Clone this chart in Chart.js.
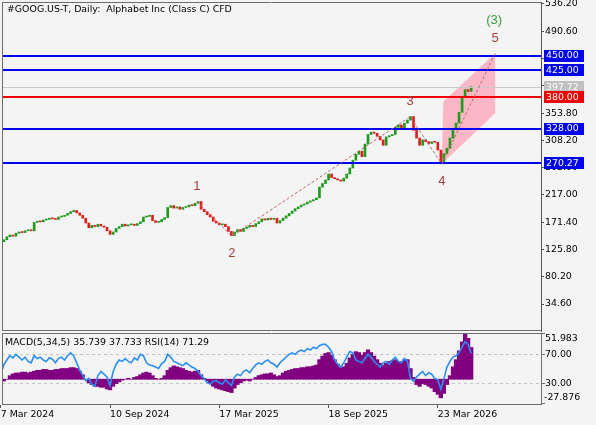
<!DOCTYPE html>
<html>
<head>
<meta charset="utf-8">
<script src="https://cdn.jsdelivr.net/npm/chart.js@4"></script>
<style>
html, body { margin: 0; padding: 0; background: #f4f4f4; }
#wrap { position: relative; width: 596px; height: 425px; overflow: hidden; }
canvas { position: absolute; left: 0; }
#main { top: 0; }
#sub { top: 333px; }
</style>
</head>
<body>
<div id="wrap">
  <canvas id="main" width="596" height="333"></canvas>
  <canvas id="sub" width="596" height="92"></canvas>
</div>
<script>
// closing prices, one candle per slot (each slot ~3.5 trading days)
const closes = [
  138.7, 142, 147, 150, 148, 153, 155, 154, 157, 158,
  157, 171, 173, 172, 175, 176, 178, 177, 176, 180,
  181, 183, 186, 189, 191, 187, 183, 178, 170, 162,
  166, 164, 168, 165, 163, 157, 151, 155, 161, 164,
  168, 165, 167, 168, 166, 169, 172, 180, 181, 183,
  174, 171, 172, 176, 179, 196, 199, 195, 197, 193,
  196, 197, 200, 199, 203, 206, 193, 189, 184, 180,
  173, 170, 167, 168, 164, 156, 149, 155, 159, 156,
  161, 163, 166, 164, 169, 172, 177, 175, 178, 176,
  178, 170, 174, 178, 182, 186, 190, 194, 197, 200,
  202, 205, 207, 209, 212, 230, 236, 242, 252, 246,
  244, 242, 240, 245, 252, 262, 275, 285, 290, 281,
  302, 318, 322, 320, 315, 309, 300, 314, 316, 318,
  330, 334, 329, 337, 342, 348, 325, 312, 300, 309,
  306, 303, 306, 305, 292, 269, 286, 295, 312, 326,
  337, 355, 382, 393, 390, 397.72
];
const macd = [
  -3, -2, 0, 4, 6, 7, 7, 8, 8, 7,
  8, 9, 10, 10, 11, 11, 10, 10, 11, 11,
  12, 12, 12, 13, 13, 12, 9, 5, 0, -4,
  -6, -8, -8, -9, -9, -11, -12, -8, -5, -3,
  -1, 0, 1, 0, 2, 3, 5, 7, 8, 7,
  4, 1, 0, 1, 4, 10, 13, 15, 14, 13,
  12, 10, 9, 8, 9, 10, 5, 1, -2, -5,
  -8, -10, -11, -12, -13, -14, -15, -10, -6, -4,
  -2, -1, -2, 0, 2, 4, 5, 6, 6, 7,
  5, 3, 4, 7, 9, 10, 11, 12, 12, 13,
  13, 14, 14, 15, 16, 22, 26, 29, 30, 27,
  22, 17, 13, 14, 18, 24, 28, 31, 30, 27,
  30, 33, 30, 26, 22, 18, 16, 18, 20, 21,
  22, 20, 20, 22, 22, 12, 2, -6, -8, -5,
  -6, -8, -10, -14, -17, -21, -16, -6, 4, 14,
  22, 32, 42, 51.983, 46, 35.739
];
const rsi = [
  42, 55, 62, 68, 65, 70, 66, 62, 66, 60,
  58, 68, 64, 66, 62, 60, 65, 63, 58, 64,
  66, 62, 68, 72, 68, 58, 48, 40, 33, 36,
  28, 25, 40, 46, 42, 38, 26, 45, 56, 62,
  60, 64, 60, 58, 65, 62, 70, 68, 58, 55,
  54, 52, 50, 57, 60, 70, 66, 60, 58, 56,
  54, 58, 55, 52, 50, 46, 40, 36, 30, 28,
  32, 33, 30, 28, 34, 30, 26, 38, 42, 40,
  46, 48, 44, 50, 55, 58, 56, 60, 62, 58,
  56, 52, 58, 62, 66, 70, 72, 70, 74, 76,
  74, 78, 76, 80, 78, 82, 84, 84, 80, 74,
  62, 56, 52, 58, 66, 74, 72, 62, 60, 58,
  64, 70, 66, 60, 56, 52, 58, 60, 56, 62,
  66, 60, 58, 64, 60, 36, 32, 38, 42, 46,
  40, 44, 42, 36, 34, 21, 35, 52, 60, 66,
  68, 72, 80, 88, 84, 71.29
];
const priceTicks = [536.2, 490.6, 445.0, 399.4, 353.8, 308.2, 262.6, 217.0, 171.4, 125.8, 80.2, 34.6];
const dateLabels = ['7 Mar 2024', '10 Sep 2024', '17 Mar 2025', '18 Sep 2025', '23 Mar 2026'];
const dateIdx = [0, 36, 72, 108, 144];
const blueLevels = [450, 425, 328, 270.27];
const redLevels = [380];
const lastPrice = 397.72;
const waveNames = ['1', '2', '3', '4', '5'];
const wavePoints = [[64.6, 205.6], [76.1, 148.2], [134.9, 347.7], [145.3, 268.6], [162.9, 453.8]];
const channel = [[145.3, 268.6], [145.8, 372.8], [162.9, 453.8], [162.9, 353.4]];
const macdRange = [51.983, -27.876];
const rsiLevels = [70, 30];
const subTitle = 'MACD(5,34,5) 35.739 37.733 RSI(14) 71.29';
const title = '#GOOG.US-T, Daily:  Alphabet Inc (Class C) CFD';

const FONT = '"DejaVu Sans"';
const X_MIN = 0.4, X_MAX = 178;

const candles = closes.map((c, i) => ({ x: i, y: [i ? closes[i - 1] : c - 1, c] }));
const candleColors = candles.map(d => d.y[1] >= d.y[0] ? '#1f9a1f' : '#e01e1e');

function noPad(s) {
  s.paddingTop = 0; s.paddingBottom = 0; s.paddingLeft = 0; s.paddingRight = 0;
}

function levelBox(ctx, yPix, text, bg) {
  ctx.fillStyle = bg;
  ctx.fillRect(544, Math.round(yPix) - 6, 40, 12);
  ctx.fillStyle = '#fff';
  ctx.textAlign = 'left';
  ctx.textBaseline = 'middle';
  ctx.fillText(text, 546, yPix + 0.5);
}

const mainDeco = {
  id: 'mainDeco',
  beforeDatasetsDraw(chart) {
    const { ctx, scales: { x, y } } = chart;
    ctx.save();
    ctx.fillStyle = 'rgba(255,160,182,0.72)';
    ctx.beginPath();
    channel.forEach((p, k) => {
      const px = x.getPixelForValue(p[0]), py = y.getPixelForValue(p[1]);
      if (k) ctx.lineTo(px, py); else ctx.moveTo(px, py);
    });
    ctx.closePath();
    ctx.fill();
    ctx.restore();
  },
  afterDraw(chart) {
    const { ctx, chartArea: a, scales: { x, y } } = chart;
    ctx.save();
    // current price line
    let yy = Math.round(y.getPixelForValue(lastPrice)) + 0.5;
    ctx.strokeStyle = '#c8c8c8';
    ctx.lineWidth = 1;
    ctx.beginPath(); ctx.moveTo(a.left, yy); ctx.lineTo(a.right, yy); ctx.stroke();
    // level lines
    ctx.lineWidth = 2;
    const drawLevel = (v, col) => {
      const py = Math.round(y.getPixelForValue(v));
      ctx.strokeStyle = col;
      ctx.beginPath(); ctx.moveTo(a.left, py); ctx.lineTo(a.right, py); ctx.stroke();
    };
    blueLevels.forEach(v => drawLevel(v, '#0000f0'));
    redLevels.forEach(v => drawLevel(v, '#f00000'));
    // wave dashed lines
    ctx.strokeStyle = '#b86a66';
    ctx.lineWidth = 1;
    ctx.setLineDash([3, 2]);
    ctx.beginPath();
    wavePoints.forEach((p, k) => {
      const px = x.getPixelForValue(p[0]), py = y.getPixelForValue(p[1]);
      if (k) ctx.lineTo(px, py); else ctx.moveTo(px, py);
    });
    ctx.stroke();
    ctx.setLineDash([]);
    // wave labels
    ctx.font = '13px "Liberation Sans"';
    ctx.textAlign = 'center';
    ctx.textBaseline = 'middle';
    ctx.fillStyle = '#a5423c';
    wavePoints.forEach((p, k) => {
      const px = x.getPixelForValue(p[0]), py = y.getPixelForValue(p[1]);
      const up = k % 2 === 0;
      ctx.fillText(waveNames[k], px, up ? py - 15 : py + 17);
    });
    const p5 = wavePoints[4];
    ctx.fillStyle = '#3c9a3c';
    ctx.fillText('(3)', x.getPixelForValue(p5[0]) - 1, y.getPixelForValue(p5[1]) - 33);
    // frame
    ctx.strokeStyle = '#6e6e6e';
    ctx.beginPath();
    ctx.moveTo(a.left + 0.5, a.top); ctx.lineTo(a.left + 0.5, a.bottom);
    ctx.moveTo(a.left, a.top + 0.5); ctx.lineTo(a.right, a.top + 0.5);
    ctx.moveTo(a.left, a.bottom - 0.5); ctx.lineTo(a.right, a.bottom - 0.5);
    ctx.stroke();
    // title
    ctx.font = '9.4px ' + FONT;
    ctx.fillStyle = '#000';
    ctx.textAlign = 'left';
    ctx.fillText(title, 7, 10);
    // axis boxes
    levelBox(ctx, y.getPixelForValue(lastPrice), lastPrice.toFixed(2), '#c0c0c0');
    blueLevels.forEach(v => levelBox(ctx, y.getPixelForValue(v), v.toFixed(2), '#0000f0'));
    redLevels.forEach(v => levelBox(ctx, y.getPixelForValue(v), v.toFixed(2), '#f00000'));
    ctx.restore();
  }
};

new Chart(document.getElementById('main'), {
  type: 'bar',
  data: {
    datasets: [{
      data: candles,
      backgroundColor: candleColors,
      barThickness: 2,
      minBarLength: 1
    }]
  },
  options: {
    responsive: false,
    animation: false,
    layout: { padding: { left: 2, top: 2, right: 0, bottom: 2 } },
    plugins: { legend: { display: false }, tooltip: { enabled: false } },
    scales: {
      x: { type: 'linear', min: X_MIN, max: X_MAX, offset: false, display: false },
      y: {
        position: 'right',
        min: -10.5,
        max: 539.5,
        afterBuildTicks: s => { s.ticks = priceTicks.map(v => ({ value: v })); },
        afterFit: s => { s.width = 55; noPad(s); },
        ticks: {
          autoSkip: false,
          padding: 1,
          color: '#000',
          font: { family: FONT, size: 9.4 },
          callback: v => Number(v).toFixed(2)
        },
        grid: { drawOnChartArea: false, tickLength: 3, color: '#555' },
        border: { color: '#555' }
      }
    }
  },
  plugins: [mainDeco]
});

const subDeco = {
  id: 'subDeco',
  beforeDatasetsDraw(chart) {
    const { ctx, chartArea: a, scales: { yRsi } } = chart;
    ctx.save();
    ctx.strokeStyle = '#c4c4c4';
    ctx.setLineDash([3, 3]);
    rsiLevels.forEach(v => {
      const py = Math.round(yRsi.getPixelForValue(v)) + 0.5;
      ctx.beginPath(); ctx.moveTo(a.left, py); ctx.lineTo(a.right, py); ctx.stroke();
    });
    ctx.restore();
  },
  afterDraw(chart) {
    const { ctx, chartArea: a, scales: { yRsi } } = chart;
    ctx.save();
    ctx.strokeStyle = '#6e6e6e';
    ctx.lineWidth = 1;
    ctx.beginPath();
    ctx.moveTo(a.left + 0.5, a.top); ctx.lineTo(a.left + 0.5, a.bottom);
    ctx.moveTo(a.left, a.top + 0.5); ctx.lineTo(a.right, a.top + 0.5);
    ctx.moveTo(a.right + 0.5, 0); ctx.lineTo(a.right + 0.5, a.bottom);
    ctx.stroke();
    // right-hand labels
    ctx.font = '9.4px ' + FONT;
    ctx.fillStyle = '#000';
    ctx.textAlign = 'left';
    ctx.textBaseline = 'middle';
    const tick = py => {
      ctx.beginPath(); ctx.moveTo(a.right, py); ctx.lineTo(a.right + 4, py); ctx.stroke();
    };
    tick(a.top + 0.5);
    ctx.fillText(macdRange[0].toFixed(3), a.right + 4, a.top + 6);
    tick(a.bottom - 0.5);
    ctx.fillText(macdRange[1].toFixed(3), a.right + 3, a.bottom - 6);
    rsiLevels.forEach(v => {
      const py = Math.round(yRsi.getPixelForValue(v)) + 0.5;
      tick(py);
      ctx.fillText(v.toFixed(2), a.right + 4, py);
    });
    ctx.fillText(subTitle, 5, a.top + 10);
    ctx.restore();
  }
};

new Chart(document.getElementById('sub'), {
  type: 'bar',
  data: {
    datasets: [
      {
        type: 'line',
        data: rsi.map((v, i) => ({ x: i, y: v })),
        yAxisID: 'yRsi',
        borderColor: '#2a8ff0',
        borderWidth: 1.6,
        pointRadius: 0,
        order: 0
      },
      {
        type: 'bar',
        data: macd.map((v, i) => ({ x: i, y: v })),
        yAxisID: 'yMacd',
        backgroundColor: '#800080',
        barThickness: 3.6,
        order: 1
      }
    ]
  },
  options: {
    responsive: false,
    animation: false,
    layout: { padding: { left: 2, top: 0, right: 55, bottom: 0 } },
    plugins: { legend: { display: false }, tooltip: { enabled: false } },
    scales: {
      x: {
        type: 'linear',
        min: X_MIN,
        max: X_MAX,
        offset: false,
        position: 'bottom',
        afterBuildTicks: s => { s.ticks = dateIdx.map(v => ({ value: v })); },
        afterFit: s => { s.height = 21; noPad(s); },
        ticks: {
          autoSkip: false,
          maxRotation: 0,
          align: 'start',
          padding: 1,
          color: '#000',
          font: { family: FONT, size: 9.4 },
          callback: v => dateLabels[dateIdx.indexOf(v)]
        },
        grid: { drawOnChartArea: false, offset: false, tickLength: 4, color: '#555' },
        border: { color: '#6e6e6e' }
      },
      yMacd: { axis: 'y', type: 'linear', min: macdRange[1], max: macdRange[0], display: false },
      yRsi: { axis: 'y', type: 'linear', min: 0, max: 100, display: false }
    }
  },
  plugins: [subDeco]
});
</script>
</body>
</html>
